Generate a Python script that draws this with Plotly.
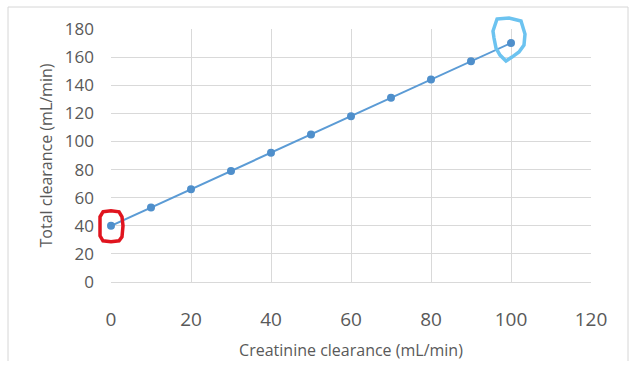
import plotly.graph_objects as go

creatinine = [0, 10, 20, 30, 40, 50, 60, 70, 80, 90, 100]
total = [40, 53, 66, 79, 92, 105, 118, 131, 144, 157, 170]
x_ticks = [0, 20, 40, 60, 80, 100, 120]
y_ticks = [0, 20, 40, 60, 80, 100, 120, 140, 160, 180]
X_RANGE = [0, 120]
Y_RANGE = [0, 180]

W, H = 641, 377
ML, MR, MT, MB = 111, 50, 29, 95
PW = W - ML - MR
PH = H - MT - MB

blue = "#5b9bd5"
grey_text = "#595959"
grid = "#d9d9d9"

fig = go.Figure()
fig.add_trace(go.Scatter(
    x=creatinine, y=total, mode="lines+markers",
    line=dict(color=blue, width=2),
    marker=dict(color="#4f8fcb", size=8),
    showlegend=False, cliponaxis=False,
))

def px(xd, dpx=0.0):
    return (xd - X_RANGE[0]) / (X_RANGE[1] - X_RANGE[0]) + dpx / PW

def py(yd, dpx=0.0):
    # dpx: pixel offset downward
    return (yd - Y_RANGE[0]) / (Y_RANGE[1] - Y_RANGE[0]) - dpx / PH

def pxabs(p):
    return (p - ML) / PW

def pyabs(p):
    return (H - MB - p) / PH

shapes = []
fr = dict(color="#d6d6d6", width=1)
L, R, T, B = pxabs(8), pxabs(628), pyabs(7), pyabs(361)
shapes.append(dict(type="line", xref="paper", yref="paper", x0=L, x1=L, y0=T, y1=B, line=fr))
shapes.append(dict(type="line", xref="paper", yref="paper", x0=L, x1=R, y0=T, y1=T, line=fr))
shapes.append(dict(type="line", xref="paper", yref="paper", x0=R, x1=R, y0=T, y1=B, line=fr))

# red hand-drawn rounded box around first point (pixel offsets)
x0, y0 = creatinine[0], total[0]
red_pts = [(-8, -14), (0, -15), (8, -14), (11, -9), (12, 0), (11, 11), (8, 15), (0, 16),
           (-8, 15), (-11, 10), (-11, 0), (-11, -9), (-8, -14)]
rpath = "M " + " L ".join(f"{px(x0, dx):.4f},{py(y0, dy):.4f}" for dx, dy in red_pts) + " Z"
shapes.append(dict(type="path", xref="paper", yref="paper", path=rpath,
                   line=dict(color="#e0141e", width=3.5)))

# light blue hand-drawn shape around last point (pixel offsets)
xl, yl = creatinine[-1], total[-1]
blue_pts = [(-14, -24), (-2, -25), (10, -22), (14, -9), (13, 2), (8, 9), (1, 14), (-5, 18),
            (-11, 12), (-15, 5), (-17, -5), (-18, -12), (-14, -24)]
bpath = "M " + " L ".join(f"{px(xl, dx):.4f},{py(yl, dy):.4f}" for dx, dy in blue_pts) + " Z"
shapes.append(dict(type="path", xref="paper", yref="paper", path=bpath,
                   line=dict(color="#6cc3f0", width=3.5)))

fig.update_layout(
    width=W, height=H,
    margin=dict(l=ML, r=MR, t=MT, b=MB),
    paper_bgcolor="white", plot_bgcolor="white",
    font=dict(family="Open Sans", color=grey_text),
    shapes=shapes,
    xaxis=dict(
        range=X_RANGE, tickvals=x_ticks, showgrid=True, gridcolor=grid, gridwidth=1,
        zeroline=False, showline=True, linecolor=grid, ticks="",
        tickfont=dict(size=19, color=grey_text), ticklabelstandoff=20,
        title=dict(text="Creatinine clearance (mL/min)", font=dict(size=16, color=grey_text), standoff=14),
    ),
    yaxis=dict(
        range=Y_RANGE, tickvals=y_ticks, showgrid=True, gridcolor=grid, gridwidth=1,
        zeroline=False, showline=False, ticks="",
        tickfont=dict(size=17, color=grey_text), ticklabelstandoff=16,
        title=dict(text="Total clearance (mL/min)", font=dict(size=16, color=grey_text), standoff=8),
    ),
)

fig.write_html("out.html")
